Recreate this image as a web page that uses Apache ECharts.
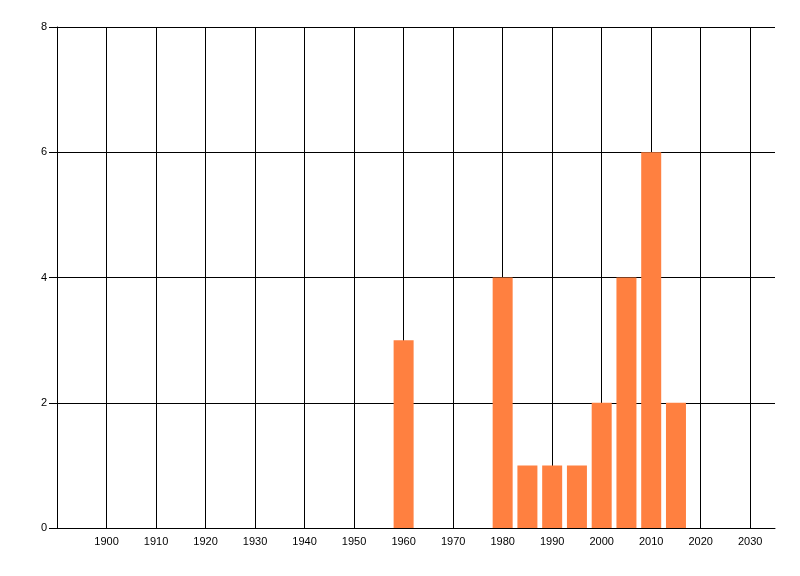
<!DOCTYPE html>
<html>
<head>
<meta charset="utf-8">
<script src="https://cdn.jsdelivr.net/npm/echarts@6/dist/echarts.min.js"></script>
<style>
html, body { margin: 0; padding: 0; background: #fff; }
#main { width: 800px; height: 576px; }
</style>
</head>
<body>
<div id="main"></div>
<script>
// 数据
var years = [1960, 1980, 1985, 1990, 1995, 2000, 2005, 2010, 2015];
var counts = [3, 4, 1, 1, 1, 2, 4, 6, 2];
var yTicks = [0, 2, 4, 6, 8];

var myChart = echarts.init(document.getElementById('main'));

var lineStyle = { color: '#000', width: 1 };
var labelFont = { color: '#000', fontFamily: 'Liberation Sans, Arial, sans-serif', fontSize: 11 };

var option = {
	animation: false,
	backgroundColor: '#fff',
	grid: { left: 57, right: 25, top: 27, bottom: 48 },
	xAxis: {
		type: 'value',
		min: 1890,
		max: 2035,
		interval: 10,
		axisLine: { show: true, lineStyle: lineStyle },
		axisTick: { show: false },
		axisLabel: Object.assign({
			margin: 8,
			showMaxLabel: false,
			formatter: function(v) { return v < 1900 || v > 2030 ? '' : String(v); }
		}, labelFont),
		splitLine: { show: true, showMaxLine: false, lineStyle: lineStyle }
	},
	yAxis: {
		type: 'value',
		min: yTicks[0],
		max: yTicks[yTicks.length - 1],
		interval: 2,
		axisLine: { show: true, lineStyle: lineStyle },
		axisTick: { show: true, length: 8, lineStyle: lineStyle },
		axisLabel: Object.assign({ margin: 10 }, labelFont),
		splitLine: { show: true, lineStyle: lineStyle }
	},
	series: [{
		type: 'bar',
		barWidth: 20,
		itemStyle: { color: '#FF8040' },
		data: years.map(function(y, i) { return [y, counts[i]]; })
	}]
};

myChart.setOption(option);
</script>
</body>
</html>
